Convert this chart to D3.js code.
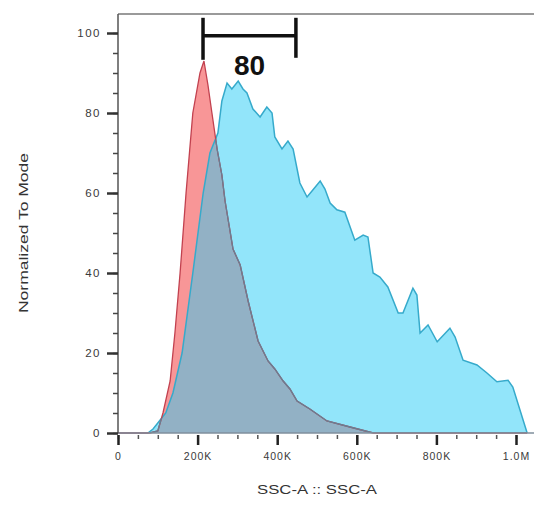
<!DOCTYPE html>
<html>
<head>
<meta charset="utf-8">
<script src="https://cdn.jsdelivr.net/npm/d3@7"></script>
<style>
  body { margin: 0; background: #fff; }
  text { font-family: "Liberation Sans", Arial, sans-serif; }
</style>
</head>
<body>
<div id="chart"></div>
<script>
// SSC-A in K, normalized to mode
var blueSsc = [0, 75, 88, 100, 120, 138, 161, 188, 214, 231, 251, 261, 274, 286, 302, 314, 324, 339, 357, 374, 387, 394, 412, 427, 440, 457, 475, 490, 508, 520, 533, 550, 570, 595, 616, 628, 641, 658, 678, 704, 716, 741, 751, 759, 779, 802, 834, 847, 867, 902, 927, 952, 980, 992, 1028];
var blueVal = [0, 0, 1, 2.5, 5, 10, 20, 40, 60, 70, 75, 83, 87.5, 86, 88, 86, 85, 81, 79, 81.5, 80, 74, 71, 73, 71, 62.5, 59, 60.8, 63, 61, 57.5, 55.8, 55.2, 48.2, 49.5, 49, 40, 39, 36.5, 30, 30, 36.2, 34.5, 25, 27, 22.8, 26.2, 24, 18.2, 17, 15, 12.8, 13.2, 11.5, 0];

var redSsc = [0, 80, 100, 113, 131, 143, 156, 171, 188, 206, 216, 226, 236, 249, 261, 269, 289, 307, 327, 352, 377, 394, 415, 432, 450, 482, 525, 583, 641, 1028];
var redVal = [0, 0, 0.5, 5, 13, 25, 40, 60, 80, 90, 93, 87, 80, 71, 64.5, 58, 46, 42, 33, 23, 18, 16, 13, 11, 8, 6, 3, 1.5, 0, 0];

var xMajor = [0, 200, 400, 600, 800, 1000];
var xMajorLabels = ["0", "200K", "400K", "600K", "800K", "1.0M"];
var xMinor = d3.range(0, 1001, 50);
var yMajor = [0, 20, 40, 60, 80, 100];
var yMinor = d3.range(0, 101, 5);

var gateRange = [213.6, 447];
var gateLabel = "80";

var margin = {top: 14, left: 118},
    width = 534 - margin.left,
    height = 433 - margin.top;

var x = d3.scaleLinear().domain([0, 1000]).range([0, 398]);
var y = d3.scaleLinear().domain([0, 100]).range([height, height - 400]);

var svg = d3.select("#chart")
  .append("svg")
  .attr("width", 534)
  .attr("height", 518);

var g = svg.append("g")
  .attr("transform", "translate(" + margin.left + "," + margin.top + ")");

var blue = blueSsc.map(function(d, i) { return [d, blueVal[i]]; });
var red = redSsc.map(function(d, i) { return [d, redVal[i]]; });

var area = d3.area()
  .x(function(d) { return x(d[0]); })
  .y0(y(0))
  .y1(function(d) { return y(d[1]); });

var line = d3.line()
  .x(function(d) { return x(d[0]); })
  .y(function(d) { return y(d[1]); });

// clip for the overlap
g.append("clipPath")
  .attr("id", "blueClip")
  .append("path")
  .attr("d", area(blue));

g.append("path")
  .attr("d", area(blue))
  .attr("fill", "#92e5fa");

g.append("path")
  .attr("d", area(red))
  .attr("fill", "#f89697");

g.append("path")
  .attr("d", area(red))
  .attr("fill", "#92b1c5")
  .attr("clip-path", "url(#blueClip)");

g.append("path")
  .attr("d", line(blue))
  .attr("fill", "none")
  .attr("stroke", "#36aacb")
  .attr("stroke-width", 1.5);

g.append("path")
  .attr("d", line(red))
  .attr("fill", "none")
  .attr("stroke", "#c2414f")
  .attr("stroke-width", 1.3);

g.append("path")
  .attr("d", line(red))
  .attr("fill", "none")
  .attr("stroke", "#667f94")
  .attr("stroke-width", 1.3)
  .attr("clip-path", "url(#blueClip)");

// frame
g.append("line")
  .attr("x1", 0).attr("x2", width)
  .attr("y1", 0).attr("y2", 0)
  .attr("stroke", "#9a9a9a")
  .attr("stroke-width", 2);

g.append("line")
  .attr("x1", 0).attr("x2", width)
  .attr("y1", height).attr("y2", height)
  .attr("stroke", "#7f8f9c")
  .attr("stroke-width", 1.5);

g.append("line")
  .attr("x1", 0).attr("x2", 0)
  .attr("y1", 0).attr("y2", height)
  .attr("stroke", "#555")
  .attr("stroke-width", 1.5);

// y axis
g.append("g")
  .attr("class", "y minor")
  .call(d3.axisLeft(y).tickValues(yMinor).tickSize(5).tickFormat(""))
  .call(function(a) { a.select(".domain").remove(); })
  .selectAll("line").attr("stroke", "#444").attr("stroke-width", 1.5);

g.append("g")
  .attr("class", "y axis")
  .call(d3.axisLeft(y).tickValues(yMajor).tickSize(11).tickPadding(6))
  .call(function(a) { a.select(".domain").remove(); })
  .call(function(a) {
    a.selectAll("line").attr("stroke", "#333").attr("stroke-width", 2.5);
    a.selectAll("text").attr("fill", "#3a3a3a").attr("font-size", 11.5).attr("letter-spacing", 1.5);
  });

// x axis
g.append("g")
  .attr("class", "x minor")
  .attr("transform", "translate(0," + (height + 2) + ")")
  .call(d3.axisBottom(x).tickValues(xMinor).tickSize(4).tickFormat(""))
  .call(function(a) { a.select(".domain").remove(); })
  .selectAll("line").attr("stroke", "#555").attr("stroke-width", 1.5);

g.append("g")
  .attr("class", "x axis")
  .attr("transform", "translate(0," + (height + 2) + ")")
  .call(d3.axisBottom(x).tickValues(xMajor).tickSize(10).tickPadding(8)
    .tickFormat(function(d, i) { return xMajorLabels[i]; }))
  .call(function(a) { a.select(".domain").remove(); })
  .call(function(a) {
    a.selectAll("line").attr("stroke", "#222").attr("stroke-width", 2.5);
    a.selectAll("text").attr("fill", "#3a3a3a").attr("font-size", 10.5).attr("letter-spacing", 1);
  });

// axis titles
svg.append("text")
  .attr("transform", "translate(28," + (margin.top + y(50)) + ") rotate(-90)")
  .attr("text-anchor", "middle")
  .attr("font-size", 12)
  .attr("fill", "#333")
  .attr("textLength", 160)
  .attr("lengthAdjust", "spacingAndGlyphs")
  .text("Normalized To Mode");

svg.append("text")
  .attr("x", margin.left + x(500))
  .attr("y", 494)
  .attr("text-anchor", "middle")
  .attr("font-size", 12)
  .attr("fill", "#333")
  .attr("textLength", 120)
  .attr("lengthAdjust", "spacingAndGlyphs")
  .text("SSC-A :: SSC-A");

// gate
var gate = g.append("g")
  .attr("stroke", "#111")
  .attr("stroke-width", 3.5);

gate.append("line")
  .attr("x1", x(gateRange[0])).attr("x2", x(gateRange[1]))
  .attr("y1", y(99.3)).attr("y2", y(99.3));

gate.selectAll(".v")
  .data(gateRange)
  .enter().append("line")
  .attr("x1", function(d) { return x(d); })
  .attr("x2", function(d) { return x(d); })
  .attr("y1", y(103.8))
  .attr("y2", function(d, i) { return i === 0 ? y(93.3) : y(93.8); });

g.append("text")
  .attr("x", x((gateRange[0] + gateRange[1]) / 2))
  .attr("y", y(89.4))
  .attr("text-anchor", "middle")
  .attr("font-size", 28)
  .attr("font-weight", "bold")
  .attr("fill", "#111")
  .text(gateLabel);
</script>
</body>
</html>
